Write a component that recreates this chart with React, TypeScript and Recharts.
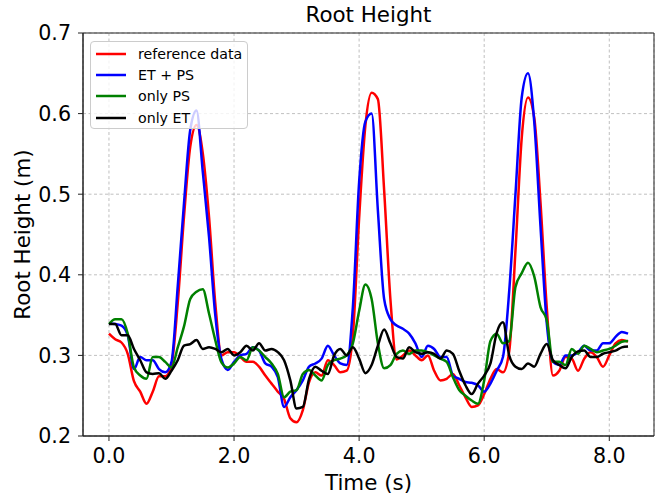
import {
  CartesianGrid,
  Legend,
  Line,
  LineChart,
  ReferenceArea,
  XAxis,
  YAxis,
} from "recharts";

/**
 * Root height over time: reference data vs. the three estimator variants.
 * Styled after a matplotlib figure (dashed grid, boxed axes, framed legend).
 */

const FONT = "'DejaVu Sans', sans-serif";

// time stamps (s)
const TIME = [
  0.0, 0.1, 0.2, 0.3, 0.4, 0.5, 0.6, 0.7, 0.8, 0.9,
  1.0, 1.1, 1.2, 1.3, 1.4, 1.5, 1.6, 1.7, 1.8, 1.9,
  2.0, 2.1, 2.2, 2.3, 2.4, 2.5, 2.6, 2.7, 2.8, 2.9,
  3.0, 3.1, 3.2, 3.3, 3.4, 3.5, 3.6, 3.7, 3.8, 3.9,
  4.0, 4.1, 4.2, 4.3, 4.4, 4.5, 4.6, 4.7, 4.8, 4.9,
  5.0, 5.1, 5.2, 5.3, 5.4, 5.5, 5.6, 5.7, 5.8, 5.9,
  6.0, 6.1, 6.2, 6.3, 6.4, 6.5, 6.6, 6.7, 6.8, 6.9,
  7.0, 7.1, 7.2, 7.3, 7.4, 7.5, 7.6, 7.7, 7.8, 7.9,
  8.0, 8.1, 8.2, 8.3,
];

const REFERENCE = [
  0.327, 0.320, 0.316, 0.302, 0.268, 0.255, 0.240, 0.255, 0.274, 0.274,
  0.288, 0.365, 0.472, 0.559, 0.586, 0.551, 0.472, 0.365, 0.300, 0.304,
  0.304, 0.298, 0.292, 0.292, 0.286, 0.275, 0.265, 0.255, 0.246, 0.222,
  0.217, 0.232, 0.267, 0.279, 0.275, 0.294, 0.288, 0.279, 0.281, 0.325,
  0.470, 0.585, 0.626, 0.618, 0.505, 0.370, 0.295, 0.300, 0.306, 0.300,
  0.294, 0.300, 0.281, 0.269, 0.271, 0.277, 0.263, 0.248, 0.236, 0.238,
  0.252, 0.271, 0.283, 0.279, 0.305, 0.430, 0.570, 0.620, 0.595, 0.490,
  0.360, 0.275, 0.281, 0.298, 0.296, 0.281, 0.296, 0.304, 0.298, 0.286,
  0.300, 0.315, 0.319, 0.317,
];

const ET_PS = [
  0.340, 0.339, 0.337, 0.325, 0.283, 0.298, 0.294, 0.294, 0.283, 0.279,
  0.292, 0.386, 0.489, 0.580, 0.604, 0.528, 0.447, 0.350, 0.295, 0.282,
  0.292, 0.300, 0.302, 0.310, 0.306, 0.290, 0.286, 0.273, 0.236, 0.248,
  0.257, 0.269, 0.286, 0.290, 0.296, 0.312, 0.300, 0.290, 0.288, 0.360,
  0.515, 0.590, 0.600, 0.480, 0.370, 0.345, 0.337, 0.333, 0.327, 0.315,
  0.298, 0.312, 0.308, 0.298, 0.298, 0.275, 0.271, 0.267, 0.266, 0.263,
  0.255, 0.265, 0.281, 0.298, 0.380, 0.500, 0.620, 0.650, 0.590, 0.460,
  0.340, 0.292, 0.288, 0.300, 0.300, 0.304, 0.312, 0.306, 0.306, 0.315,
  0.315, 0.323, 0.329, 0.327,
];

const ONLY_PS = [
  0.339, 0.345, 0.345, 0.327, 0.285, 0.275, 0.271, 0.298, 0.298, 0.292,
  0.285, 0.310, 0.336, 0.370, 0.379, 0.382, 0.352, 0.319, 0.291, 0.285,
  0.290, 0.298, 0.294, 0.310, 0.306, 0.298, 0.290, 0.277, 0.248, 0.255,
  0.257, 0.277, 0.282, 0.275, 0.269, 0.288, 0.294, 0.296, 0.300, 0.315,
  0.355, 0.388, 0.370, 0.315, 0.284, 0.288, 0.302, 0.306, 0.302, 0.306,
  0.306, 0.304, 0.300, 0.296, 0.292, 0.273, 0.257, 0.250, 0.244, 0.240,
  0.269, 0.318, 0.327, 0.315, 0.318, 0.385, 0.402, 0.415, 0.398, 0.360,
  0.344, 0.292, 0.292, 0.288, 0.308, 0.302, 0.312, 0.308, 0.304, 0.306,
  0.308, 0.312, 0.317, 0.318,
];

const ONLY_ET = [
  0.339, 0.339, 0.325, 0.325, 0.308, 0.294, 0.279, 0.277, 0.278, 0.271,
  0.281, 0.294, 0.312, 0.314, 0.319, 0.308, 0.310, 0.308, 0.304, 0.308,
  0.300, 0.304, 0.312, 0.306, 0.315, 0.306, 0.308, 0.304, 0.294, 0.269,
  0.234, 0.236, 0.271, 0.286, 0.281, 0.277, 0.300, 0.308, 0.300, 0.310,
  0.296, 0.278, 0.288, 0.312, 0.332, 0.315, 0.298, 0.296, 0.310, 0.304,
  0.302, 0.304, 0.302, 0.296, 0.306, 0.302, 0.281, 0.263, 0.252, 0.265,
  0.275, 0.290, 0.328, 0.341, 0.300, 0.286, 0.283, 0.290, 0.286, 0.302,
  0.314, 0.294, 0.288, 0.284, 0.298, 0.305, 0.306, 0.298, 0.298, 0.302,
  0.304, 0.306, 0.310, 0.311,
];

const X_TICKS = [0, 2, 4, 6, 8];
const Y_TICKS = [0.2, 0.3, 0.4, 0.5, 0.6, 0.7];

const SERIES = [
  { key: "ref", name: "reference data", color: "#ff0000" },
  { key: "etps", name: "ET + PS", color: "#0000ff" },
  { key: "ps", name: "only PS", color: "#008000" },
  { key: "et", name: "only ET", color: "#000000" },
];

const rows = TIME.map((t, i) => ({
  t,
  ref: REFERENCE[i],
  etps: ET_PS[i],
  ps: ONLY_PS[i],
  et: ONLY_ET[i],
}));

// matplotlib pads the x range by 5% on each side
const X_PAD = (TIME[TIME.length - 1] - TIME[0]) * 0.05;
const X_DOMAIN = [TIME[0] - X_PAD, TIME[TIME.length - 1] + X_PAD];

const LABEL_SIZE = 21.4;
const tickStyle = { fontSize: 20.6, fill: "#000", fontFamily: FONT };

function LegendBox() {
  return (
    <div
      style={{
        width: 158,
        height: 88,
        boxSizing: "border-box",
        background: "rgba(255,255,255,0.8)",
        border: "1px solid #cccccc",
        borderRadius: 4,
        paddingTop: 1,
        fontFamily: FONT,
        fontSize: 14.2,
        color: "#000",
      }}
    >
      {SERIES.map((s) => (
        <div key={s.key} style={{ display: "flex", alignItems: "center", height: 21.3 }}>
          <svg width={30} height={6} style={{ marginLeft: 5, marginRight: 12, flex: "none" }}>
            <line x1={0} y1={3} x2={30} y2={3} stroke={s.color} strokeWidth={2.5} />
          </svg>
          <span style={{ whiteSpace: "nowrap" }}>{s.name}</span>
        </div>
      ))}
    </div>
  );
}

export default function App() {
  return (
    <div
      style={{
        position: "absolute",
        left: 0,
        top: 0,
        width: 664,
        height: 498,
        background: "#fff",
        fontFamily: FONT,
      }}
    >
      <div
        style={{
          position: "absolute",
          left: 83,
          width: 571,
          top: 2,
          textAlign: "center",
          fontSize: LABEL_SIZE,
          color: "#000",
        }}
      >
        Root Height
      </div>
      <LineChart
        width={664}
        height={498}
        data={rows}
        margin={{ top: 33, right: 10, bottom: 32, left: 23 }}
      >
        <CartesianGrid stroke="#b0b0b0" strokeWidth={0.8} strokeDasharray="3 2.5" />
        <XAxis
          dataKey="t"
          type="number"
          domain={X_DOMAIN}
          ticks={X_TICKS}
          allowDataOverflow
          tickFormatter={(v: number) => v.toFixed(1)}
          tick={tickStyle}
          tickSize={5}
          tickMargin={7}
          height={30}
          stroke="#222"
          label={{
            content: (props: any) => {
              const vb = props.viewBox;
              return (
                <text
                  x={vb.x + vb.width / 2}
                  y={vb.y + 46}
                  textAnchor="middle"
                  dominantBaseline="central"
                  fontSize={LABEL_SIZE}
                  fontFamily={FONT}
                  fill="#000"
                >
                  Time (s)
                </text>
              );
            },
          }}
        />
        <YAxis
          type="number"
          domain={[0.2, 0.7]}
          ticks={Y_TICKS}
          allowDataOverflow
          tickFormatter={(v: number) => v.toFixed(1)}
          tick={tickStyle}
          tickSize={5}
          tickMargin={7}
          width={60}
          stroke="#222"
          label={{
            content: (props: any) => {
              const vb = props.viewBox;
              const cx = vb.x - 1;
              const cy = vb.y + vb.height / 2;
              return (
                <text
                  x={cx}
                  y={cy}
                  transform={`rotate(-90 ${cx} ${cy})`}
                  textAnchor="middle"
                  dominantBaseline="central"
                  fontSize={LABEL_SIZE}
                  fontFamily={FONT}
                  fill="#000"
                >
                  Root Height (m)
                </text>
              );
            },
          }}
        />
        {SERIES.map((s) => (
          <Line
            key={s.key}
            type="monotone"
            dataKey={s.key}
            name={s.name}
            stroke={s.color}
            strokeWidth={2.5}
            dot={false}
            activeDot={false}
            isAnimationActive={false}
          />
        ))}
        <ReferenceArea
          x1={X_DOMAIN[0]}
          x2={X_DOMAIN[1]}
          y1={0.2}
          y2={0.7}
          fill="none"
          stroke="#222"
          strokeWidth={1}
          ifOverflow="visible"
        />
        <Legend
          layout="vertical"
          verticalAlign="middle"
          align="center"
          content={() => <LegendBox />}
          wrapperStyle={{ left: 90, top: 41, width: 158 }}
        />
      </LineChart>
    </div>
  );
}
